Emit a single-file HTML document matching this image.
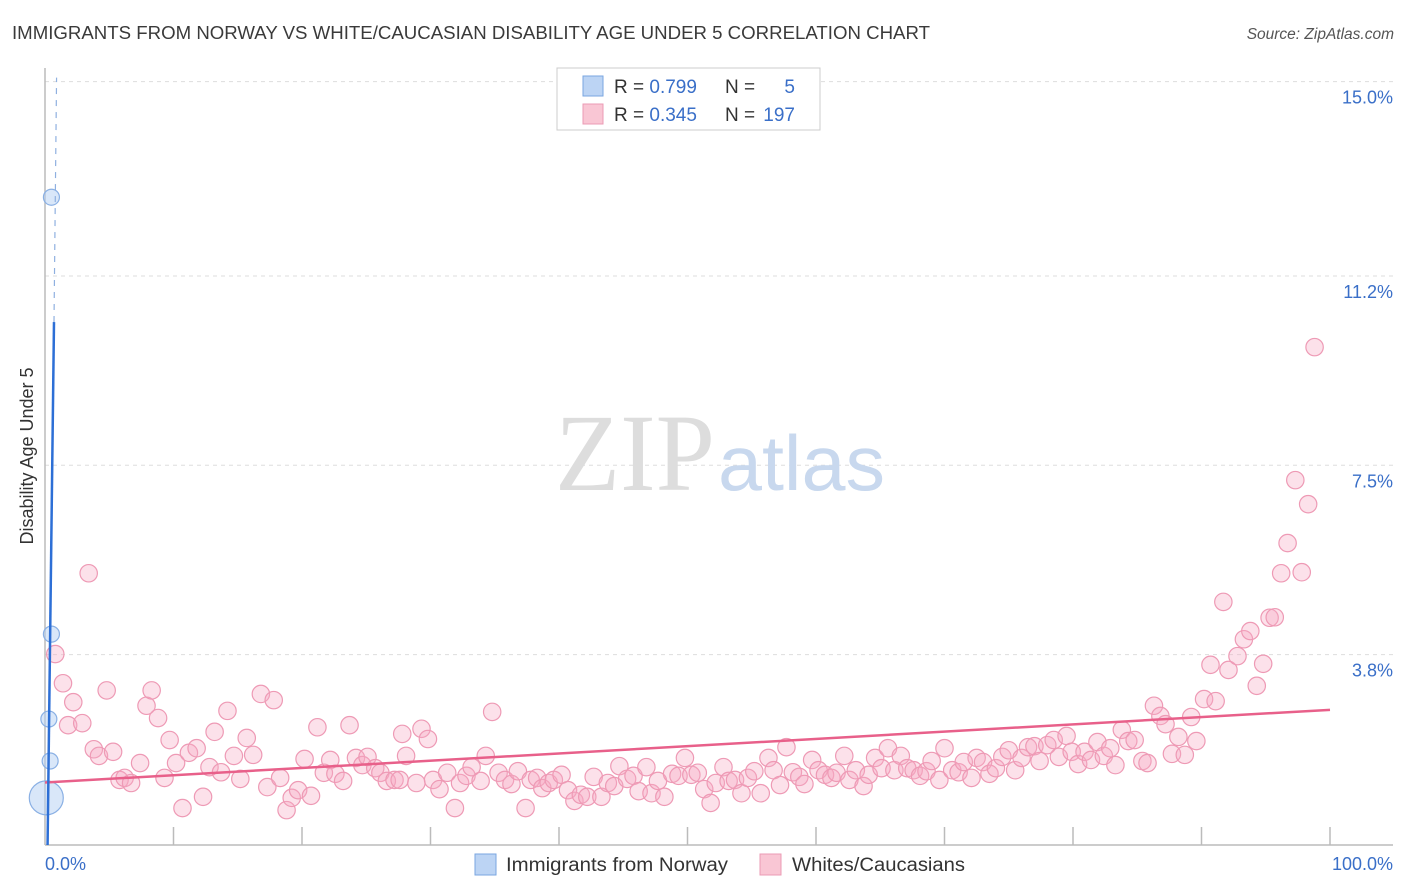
<!DOCTYPE html>
<html><head><meta charset="utf-8"><style>
body{margin:0;background:#fff;font-family:"Liberation Sans",sans-serif}
svg{display:block}
</style></head><body>
<svg id="chart" width="1406" height="892">
<text x="12" y="39" font-size="18" fill="#3a3a3a" textLength="918" lengthAdjust="spacingAndGlyphs">IMMIGRANTS FROM NORWAY VS WHITE/CAUCASIAN DISABILITY AGE UNDER 5 CORRELATION CHART</text>
<text x="1394" y="39" font-size="15.5" fill="#555" font-style="italic" text-anchor="end">Source: ZipAtlas.com</text>
<g id="grid"></g>
<text x="555" y="490" font-size="110" font-family="Liberation Serif,serif" fill="#ddd" textLength="160" lengthAdjust="spacingAndGlyphs">ZIP</text>
<text x="718" y="490" font-size="78" fill="#c8d8ee" textLength="167" lengthAdjust="spacingAndGlyphs">atlas</text>
<line x1="45" y1="68" x2="45" y2="845" stroke="#bbb" stroke-width="1.5"/>
<line x1="45" y1="845" x2="1393" y2="845" stroke="#bbb" stroke-width="1.5"/>
<g id="xticks"></g>
<text x="33" y="456" font-size="18" fill="#333" text-anchor="middle" transform="rotate(-90 33 456)">Disability Age Under 5</text>
<text x="45" y="870" font-size="18" fill="#3a6fc8">0.0%</text>
<text x="1393" y="870" font-size="18" fill="#3a6fc8" text-anchor="end">100.0%</text>
<g id="pink"></g>
<g id="blue"></g>
<g id="lines"></g>
<g>
<rect x="557" y="68" width="263" height="62" fill="#fff" stroke="#ccc"/>
<rect x="583" y="76" width="20" height="20" fill="#bcd4f4" stroke="#7aa6e0"/>
<rect x="583" y="104" width="20" height="20" fill="#f9c6d4" stroke="#eb9bb4"/>
<text x="614" y="93" font-size="19" fill="#333">R = <tspan fill="#3a6fc8">0.799</tspan></text>
<text x="725" y="93" font-size="19" fill="#333">N = </text><text x="795" y="93" font-size="19" fill="#3a6fc8" text-anchor="end">5</text>
<text x="614" y="121" font-size="19" fill="#333">R = <tspan fill="#3a6fc8">0.345</tspan></text>
<text x="725" y="121" font-size="19" fill="#333">N = </text><text x="795" y="121" font-size="19" fill="#3a6fc8" text-anchor="end">197</text>
</g>
<g>
<rect x="475" y="854" width="21" height="21" fill="#bcd4f4" stroke="#7aa6e0"/>
<text x="506" y="871" font-size="19" fill="#333" textLength="222" lengthAdjust="spacingAndGlyphs">Immigrants from Norway</text>
<rect x="760" y="854" width="21" height="21" fill="#f9c6d4" stroke="#eb9bb4"/>
<text x="792" y="871" font-size="19" fill="#333" textLength="173" lengthAdjust="spacingAndGlyphs">Whites/Caucasians</text>
</g>
</svg>
<script>
const yTicks=[15.0,11.2,7.5,3.8];
const yTickLabels=["15.0%","11.2%","7.5%","3.8%"];
const xTickValues=[0,10,20,30,40,50,60,70,80,90,100];
const blueX=[0.5,0.5,0.3,0.4,0.1];
const blueY=[12.74,4.2,2.54,1.72,1.0];
const blueR=[8,8,8,8,17];
const blueTrend=[[0.2,0],[0.7,10.3],[0.9,15.0]];
const pinkTrend=[[0,1.3],[100,2.72]];
const pinkX=[3.4,0.8,1.4,2.2,1.8,2.9,3.8,4.2,5.3,4.8,5.8,6.2,6.7,7.4,7.9,8.3,8.8,9.3,9.7,10.2,10.7,11.2,11.8,12.3,12.8,13.2,13.7,14.2,14.7,15.2,15.7,16.2,16.8,17.3,17.8,18.3,18.8,19.2,19.7,20.2,20.7,21.2,21.7,22.2,22.6,23.2,23.7,24.2,24.7,25.1,25.7,26.1,26.6,27.2,27.6,27.8,28.1,28.9,29.3,29.8,30.2,30.7,31.3,31.9,32.3,32.8,33.2,33.9,34.3,34.8,35.3,35.8,36.3,36.8,37.4,37.8,38.3,38.7,39.2,39.6,40.2,40.7,41.2,41.7,42.2,42.7,43.3,43.8,44.3,44.7,45.3,45.8,46.2,46.8,47.2,47.7,48.2,48.8,49.3,49.8,50.3,50.8,51.3,51.8,52.2,52.8,53.2,53.7,54.2,54.7,55.2,55.7,56.3,56.7,57.2,57.7,58.2,58.7,59.1,59.7,60.2,60.7,61.2,61.6,62.2,62.6,63.1,63.7,64.1,64.6,65.1,65.6,66.1,66.6,67.1,67.6,68.1,68.6,69.0,69.6,70.0,70.6,71.1,71.5,72.1,72.5,73.0,73.5,74.0,74.5,75.0,75.5,76.0,76.5,77.0,77.4,78.0,78.5,78.9,79.5,79.9,80.4,80.9,81.4,81.9,82.4,82.9,83.3,83.8,84.3,84.8,85.4,85.8,86.3,86.8,87.2,87.7,88.2,88.7,89.2,89.6,90.2,90.7,91.1,91.7,92.1,92.8,93.3,93.8,94.3,94.8,95.3,95.7,96.2,96.7,97.3,97.8,98.3,98.8];
const pinkY=[5.39,3.81,3.24,2.87,2.42,2.46,1.95,1.82,1.9,3.1,1.35,1.39,1.29,1.68,2.8,3.1,2.56,1.39,2.13,1.68,0.8,1.88,1.97,1.02,1.6,2.29,1.5,2.7,1.82,1.37,2.17,1.84,3.03,1.21,2.91,1.39,0.76,1.0,1.15,1.76,1.04,2.38,1.49,1.74,1.47,1.33,2.42,1.78,1.64,1.8,1.58,1.49,1.33,1.35,1.35,2.25,1.82,1.29,2.35,2.15,1.35,1.17,1.49,0.8,1.29,1.43,1.6,1.33,1.82,2.68,1.49,1.35,1.27,1.52,0.8,1.35,1.39,1.19,1.29,1.35,1.45,1.15,0.94,1.06,1.02,1.41,1.02,1.29,1.23,1.62,1.37,1.43,1.13,1.6,1.09,1.33,1.02,1.47,1.43,1.78,1.45,1.49,1.17,0.9,1.29,1.6,1.33,1.35,1.09,1.39,1.52,1.09,1.78,1.54,1.25,1.99,1.5,1.41,1.27,1.74,1.54,1.45,1.39,1.49,1.82,1.35,1.54,1.23,1.45,1.78,1.58,1.97,1.54,1.82,1.58,1.54,1.43,1.52,1.72,1.35,1.97,1.54,1.5,1.7,1.39,1.78,1.7,1.47,1.58,1.8,1.93,1.54,1.78,1.99,2.01,1.72,2.03,2.13,1.8,2.21,1.9,1.66,1.9,1.74,2.09,1.82,1.97,1.64,2.33,2.11,2.13,1.72,1.68,2.8,2.6,2.44,1.86,2.19,1.84,2.58,2.11,2.93,3.6,2.89,4.83,3.5,3.77,4.1,4.26,3.19,3.62,4.52,4.53,5.39,5.98,7.21,5.41,6.74,9.81];

const NS='http://www.w3.org/2000/svg';
const X0=45,X1=1330,Y0=849,PY=51.16;
function sx(v){return X0+(X1-X0)*v/100;}
function sy(v){return Y0-v*PY;}
function mk(tag,attrs,parent){const e=document.createElementNS(NS,tag);for(const k in attrs)e.setAttribute(k,attrs[k]);parent.appendChild(e);return e;}
const grid=document.getElementById('grid');
yTicks.forEach((t,i)=>{
  const l=mk('line',{x1:45,x2:1393,y1:sy(t),y2:sy(t),stroke:'#ddd','stroke-dasharray':'4,4'},grid);
  
  
  const tx=mk('text',{x:1393,y:sy(t)+22,'font-size':18,fill:'#3a6fc8','text-anchor':'end'},grid);
  tx.textContent=yTickLabels[i];
  
  
});
const xt=document.getElementById('xticks');
xTickValues.forEach(v=>{
  if(v===0)return;
  const l=mk('line',{x1:sx(v),x2:sx(v),y1:827,y2:845,stroke:'#bbb','stroke-width':1.5},xt);
  
  
});
const pg=document.getElementById('pink');
pinkX.forEach((x,i)=>{
  const c=mk('circle',{cx:sx(x),cy:sy(pinkY[i]),r:8.7,fill:'rgba(246,170,195,0.35)',stroke:'#ee9ab5','stroke-width':1.2},pg);
  
  
});
const bg=document.getElementById('blue');
blueX.forEach((x,i)=>{
  const c=mk('circle',{cx:sx(x),cy:sy(blueY[i]),r:blueR[i],fill:'rgba(180,208,244,0.5)',stroke:'#8ab0e4','stroke-width':1.2},bg);
  
  
});
const lg=document.getElementById('lines');
const pt=mk('line',{x1:sx(pinkTrend[0][0]),y1:sy(pinkTrend[0][1]),x2:sx(pinkTrend[1][0]),y2:sy(pinkTrend[1][1]),stroke:'#e8608a','stroke-width':2.5},lg);


const bt=mk('line',{x1:sx(blueTrend[0][0]),y1:sy(blueTrend[0][1])-4,x2:sx(blueTrend[1][0]),y2:sy(blueTrend[1][1]),stroke:'#2d6fd6','stroke-width':2.5},lg);


const bd=mk('line',{x1:sx(blueTrend[1][0]),y1:sy(blueTrend[1][1]),x2:sx(blueTrend[2][0]),y2:sy(blueTrend[2][1])-4,stroke:'#8fb0e0','stroke-width':1.2,'stroke-dasharray':'6,6'},lg);


</script>
</body></html>
